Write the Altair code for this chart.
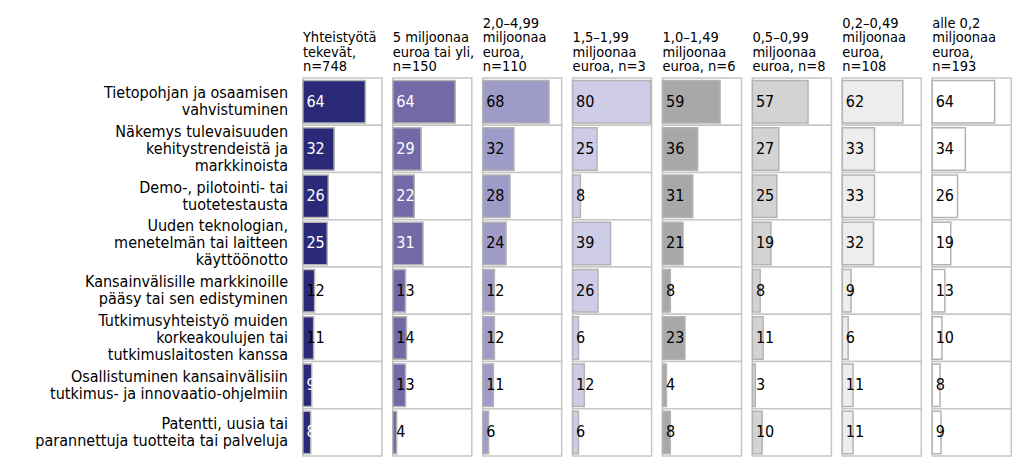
import altair as alt
import pandas as pd

FONT = "DejaVu Sans Condensed, Liberation Sans Narrow, Roboto, sans-serif"

ROW_LABELS = [
    "Tietopohjan ja osaamisen\nvahvistuminen",
    "Näkemys tulevaisuuden\nkehitystrendeistä ja\nmarkkinoista",
    "Demo-, pilotointi- tai\ntuotetestausta",
    "Uuden teknologian,\nmenetelmän tai laitteen\nkäyttöönotto",
    "Kansainvälisille markkinoille\npääsy tai sen edistyminen",
    "Tutkimusyhteistyö muiden\nkorkeakoulujen tai\ntutkimuslaitosten kanssa",
    "Osallistuminen kansainvälisiin\ntutkimus- ja  innovaatio-ohjelmiin",
    "Patentti, uusia tai\nparannettuja tuotteita tai palveluja",
]

GROUP_TITLES = [
    ["Yhteistyötä", "tekevät,", "n=748"],
    ["5 miljoonaa", "euroa tai yli,", "n=150"],
    ["2,0–4,99", "miljoonaa", "euroa,", "n=110"],
    ["1,5–1,99", "miljoonaa", "euroa, n=3"],
    ["1,0–1,49", "miljoonaa", "euroa, n=6"],
    ["0,5–0,99", "miljoonaa", "euroa, n=8"],
    ["0,2–0,49", "miljoonaa", "euroa,", "n=108"],
    ["alle 0,2", "miljoonaa", "euroa,", "n=193"],
]

VALUES = [
    [64, 32, 26, 25, 12, 11, 9, 8],
    [64, 29, 22, 31, 13, 14, 13, 4],
    [68, 32, 28, 24, 12, 12, 11, 6],
    [80, 25, 8, 39, 26, 6, 12, 6],
    [59, 36, 31, 21, 8, 23, 4, 8],
    [57, 27, 25, 19, 8, 11, 3, 10],
    [62, 33, 33, 32, 9, 6, 11, 11],
    [64, 34, 26, 19, 13, 10, 8, 9],
]

COLORS = ["#2b2a78", "#716aa6", "#9f9bc9", "#cecce6",
          "#a8a8a8", "#d3d3d3", "#ededed", "#ffffff"]

WHITE_LABEL = [
    [1, 1, 1, 1, 0, 0, 1, 1],
    [1, 1, 1, 1, 0, 0, 0, 0],
] + [[0] * 8 for _ in range(6)]

PW = 79            # panel width
TOTAL_H = 448      # header band + rows
ROW_TOP = 70       # rows start below the header band
BAND = (TOTAL_H - ROW_TOP) / 8
ROW_LH = 17
HEAD_LH = 14.5
HEAD_BASE = 63     # baseline of the last header line

yscale = alt.Scale(range=[ROW_TOP, TOTAL_H], paddingInner=0, paddingOuter=0)

# row labels, one text item per line, centred on the row
lab_rows = []
for i, lab in enumerate(ROW_LABELS):
    lines = lab.split("\n")
    n = len(lines)
    for k, ln in enumerate(lines):
        lab_rows.append({"i": i, "line": ln,
                         "yo": BAND / 2 + (k - (n - 1) / 2) * ROW_LH})
label_df = pd.DataFrame(lab_rows)

labels_chart = alt.Chart(label_df).mark_text(
    align="right", baseline="middle", fontSize=16, font=FONT, color="black"
).encode(
    y=alt.Y("i:O", axis=None, scale=yscale),
    yOffset=alt.YOffset("yo:Q", scale=None),
    x=alt.value(280),
    text="line:N",
).properties(width=283.8, height=TOTAL_H)

panels = []
for p in range(8):
    df = pd.DataFrame({
        "i": list(range(8)),
        "value": VALUES[p],
        "tc": ["white" if w else "black" for w in WHITE_LABEL[p]],
    })
    base = alt.Chart(df)
    cells = base.mark_rect(fill="white", stroke="#c6c6c6", strokeWidth=1.5).encode(
        y=alt.Y("i:O", axis=None, scale=yscale),
        x=alt.value(0), x2=alt.value(PW),
    )
    bars = base.mark_bar(fill=COLORS[p], stroke="#b3b3b3", strokeWidth=1.5,
                         height=42.5).encode(
        y=alt.Y("i:O", axis=None, scale=yscale),
        x=alt.X("value:Q", axis=None, scale=alt.Scale(domain=[0, 81], nice=False)),
        x2=alt.value(2.5),
    )
    texts = base.mark_text(align="left", baseline="middle", fontSize=16,
                           font=FONT).encode(
        y=alt.Y("i:O", axis=None, scale=yscale),
        x=alt.value(3.5),
        text="value:Q",
        color=alt.Color("tc:N", scale=None),
    )
    lines = GROUP_TITLES[p]
    n = len(lines)
    hdf = pd.DataFrame({
        "line": lines,
        "hy": [HEAD_BASE - (n - 1 - k) * HEAD_LH for k in range(n)],
    })
    header = alt.Chart(hdf).mark_text(
        align="left", baseline="alphabetic", fontSize=14.5, font=FONT, color="black"
    ).encode(
        x=alt.value(0),
        y=alt.Y("hy:Q", scale=None, axis=None),
        text="line:N",
    )
    panels.append(
        alt.layer(cells, bars, texts, header)
        .resolve_scale(y="independent")
        .properties(width=PW, height=TOTAL_H)
    )

chart = alt.hconcat(labels_chart, *panels, spacing=10.9, bounds="flush").properties(
    padding={"left": 0, "top": 0, "right": 0, "bottom": 0}
).configure_view(stroke=None).configure_text(font=FONT)

chart.save("out.html", embed_options={"renderer": "svg", "actions": False})
